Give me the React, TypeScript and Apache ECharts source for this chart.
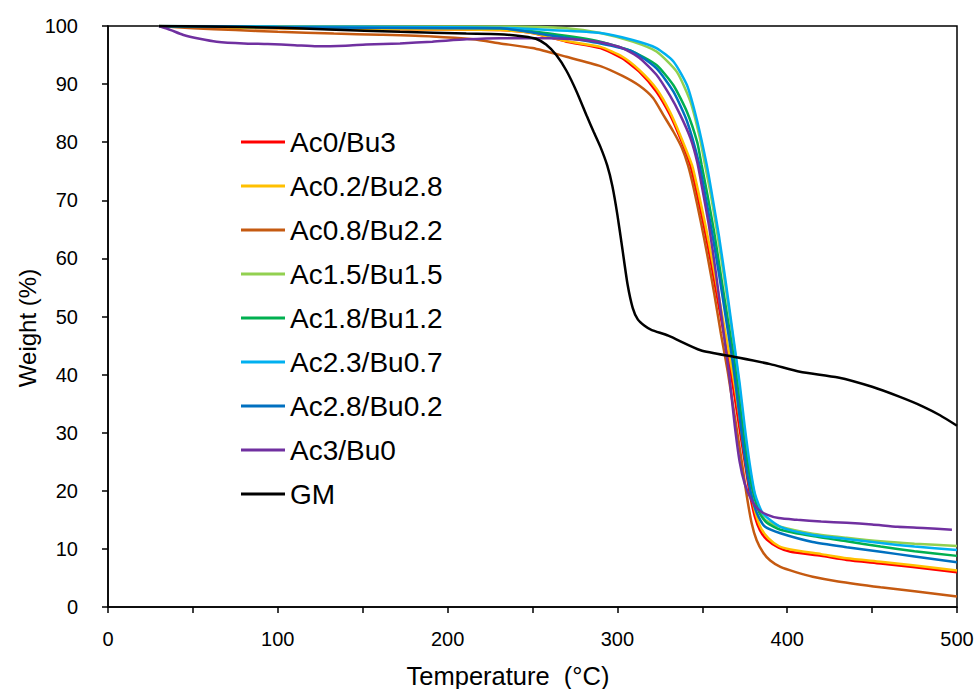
import React, { useEffect, useRef } from "react";
import * as echarts from "echarts";

// ---------- data (temperature °C, weight %) ----------
const names = [
  "Ac0/Bu3",
  "Ac0.2/Bu2.8",
  "Ac0.8/Bu2.2",
  "Ac1.5/Bu1.5",
  "Ac1.8/Bu1.2",
  "Ac2.3/Bu0.7",
  "Ac2.8/Bu0.2",
  "Ac3/Bu0",
  "GM",
];
const colors = ["#FF0000", "#FFC000", "#C55A11", "#92D050", "#00B050", "#00B0F0", "#0070C0", "#7030A0", "#000000"];

const tAc0 = [30, 60, 100, 150, 200, 231, 250, 270, 290, 303, 313, 323, 331, 337, 343, 347, 351, 355, 359, 363, 367, 371, 375, 378, 381, 384, 388, 395, 402, 420, 435, 455, 474, 500];
const wAc0 = [100, 99.8, 99.6, 99.5, 99.4, 99.3, 98.8, 97.3, 96.2, 94.4, 92.1, 88.7, 84.7, 80.7, 76, 71, 65.5, 59.5, 53, 46.5, 40, 32.5, 25, 19.5, 15.5, 13.2, 11.6, 10.2, 9.5, 8.8, 8.1, 7.5, 6.9, 6.0];

const tAc02 = [30, 60, 100, 150, 200, 231, 250, 270, 290, 303, 313, 323, 331, 337, 344, 348, 352, 356, 360, 364, 368, 372, 375.5, 378.5, 381.5, 384.5, 389, 395, 402, 420, 435, 455, 474, 500];
const wAc02 = [100, 99.8, 99.6, 99.5, 99.4, 99.3, 98.8, 97.4, 96.4, 94.7, 92.4, 89.2, 85.2, 81.2, 76, 71, 65.5, 59.5, 53, 46.5, 40, 32.5, 25.5, 20, 16, 13.6, 11.8, 10.5, 9.9, 9.1, 8.4, 7.8, 7.2, 6.3];

const tAc08 = [30, 50, 75, 100, 133, 160, 191, 215, 231, 250, 270, 290, 303, 313, 321, 327, 333, 338, 341.6, 345, 349, 353, 357, 361, 365, 369, 373, 376, 379, 382, 386, 390, 396, 405, 415, 430, 455, 475, 500];
const wAc08 = [100, 99.6, 99.3, 99.0, 98.7, 98.5, 98.2, 97.7, 97.0, 96.2, 94.7, 93.1, 91.4, 89.7, 87.6, 84.7, 81.8, 79, 76, 72, 66.5, 60.5, 54, 47, 40.5, 33, 25.5, 19.5, 14.5, 11.5, 9.3, 8.0, 6.9, 6.0, 5.2, 4.4, 3.4, 2.7, 1.8];

const tAc15 = [30, 100, 200, 231, 270, 290, 309, 323, 335, 343, 348.6, 351.6, 355, 359, 363, 367, 371, 374, 377, 380, 383, 387, 396, 415, 435, 455, 475, 500];
const wAc15 = [100, 99.9, 99.9, 99.9, 99.6, 98.8, 97.3, 95.6, 92.1, 87, 80.7, 76.1, 71, 64, 56.5, 48.5, 40, 32.5, 25.5, 20.5, 17, 15, 13.8, 12.6, 11.9, 11.3, 10.9, 10.5];

const tAc18 = [30, 100, 200, 231, 260, 290, 309, 323, 333, 341, 347, 349.6, 353, 357, 361, 365, 369, 372, 375, 378, 381, 384, 388, 396, 415, 435, 455, 475, 500];
const wAc18 = [100, 99.8, 99.7, 99.6, 98.7, 97.3, 95.6, 93.3, 89.8, 85.2, 80, 76.1, 71, 64.5, 57, 49.5, 42, 35, 28, 22.5, 18.5, 16, 14.5, 13.3, 12.2, 11.3, 10.4, 9.6, 8.8];

const tAc23 = [30, 100, 200, 231, 260, 290, 309, 323, 333, 341, 347, 352.6, 356, 360, 364, 368, 372, 375, 378, 381, 385.7, 396, 415, 435, 455, 475, 500];
const wAc23 = [100, 99.9, 99.8, 99.7, 99.3, 98.8, 97.6, 96.2, 93.9, 89.8, 83.6, 76.1, 70.5, 63.5, 55.5, 47, 38.5, 31, 24.5, 19.5, 16.1, 13.8, 12.4, 11.7, 11.0, 10.4, 9.8];

const tAc28 = [30, 100, 200, 231, 260, 290, 309, 323, 333, 341, 348.3, 352, 356, 360, 364, 368, 371, 374, 377, 380, 383, 387, 396, 415, 435, 455, 475, 500];
const wAc28 = [100, 99.8, 99.6, 99.6, 98.4, 97.0, 95.6, 92.7, 88.7, 83.6, 76.1, 70.5, 64, 57, 49.5, 42, 35, 28, 22, 18, 15.6, 13.8, 12.7, 11.2, 10.3, 9.5, 8.7, 7.7];

const tAc3 = [30, 37, 44, 54, 64, 80, 94, 110, 123, 140, 152, 172, 191, 211, 231, 260, 280, 290, 303, 313, 323, 331, 337, 343, 347, 350, 354, 358, 362, 366, 369, 372, 375, 379, 383, 388, 395, 406, 420, 435, 450, 465, 480, 497];
const wAc3 = [100, 99.3, 98.5, 97.8, 97.3, 97.0, 96.9, 96.7, 96.5, 96.6, 96.8, 97.0, 97.3, 97.7, 97.9, 97.9, 97.6, 97.2, 96.2, 94.5, 91.6, 88, 84.7, 80.7, 76.6, 72, 65.5, 57.5, 48.5, 39.5, 31.5, 25, 21.2, 18.4, 16.8, 15.9, 15.3, 15.0, 14.7, 14.5, 14.2, 13.8, 13.6, 13.3];

const tGM = [30, 60, 100, 130, 172, 211, 230, 245, 252, 258, 264, 270, 276, 282, 286, 290, 294, 297, 300, 303, 306, 309, 312, 316, 320, 330, 349, 370, 390, 407.5, 430, 450, 466, 480, 490, 500];
const wGM = [100, 99.9, 99.7, 99.4, 99.0, 98.7, 98.6, 98.2, 97.8, 96.8, 95, 92.3, 88.7, 84.5, 81.8, 79.2, 76, 72.5, 67.5, 61.5, 55.5, 51.5, 49.5, 48.4, 47.7, 46.7, 44.2, 43, 41.8, 40.5, 39.5, 37.9, 36.2, 34.5, 33, 31.2];

const temps = [tAc0, tAc02, tAc08, tAc15, tAc18, tAc23, tAc28, tAc3, tGM];
const weights = [wAc0, wAc02, wAc08, wAc15, wAc18, wAc23, wAc28, wAc3, wGM];

const xTicks = [0, 100, 200, 300, 400, 500];
const xTitle = "Temperature  (°C)";
const yTitle = "Weight (%)";

const FONT = "'Liberation Sans', Arial, sans-serif";

export default function App() {
  const ref = useRef<HTMLDivElement>(null);
  useEffect(() => {
    document.body.style.margin = "0";
    if (!ref.current) return;
    const chart = echarts.init(ref.current, null, { renderer: "svg" });
    const series = names.map((n, i) => ({
      name: n,
      type: "line",
      data: temps[i].map((t, j) => [t, weights[i][j]]),
      showSymbol: false,
      symbol: "none",
      smooth: 0.2,
      color: colors[i],
      lineStyle: { width: 2.5, color: colors[i] },
      z: 2 + i,
    }));
    chart.setOption({
      animation: false,
      backgroundColor: "#fff",
      textStyle: { fontFamily: FONT },
      grid: { left: 108, top: 26, width: 849, height: 581, show: true, borderColor: "#000", borderWidth: 1.5, backgroundColor: "transparent" },
      legend: {
        orient: "vertical",
        left: 241,
        top: 128,
        padding: 0,
        icon: "rect",
        itemWidth: 44,
        itemHeight: 3,
        itemGap: 16,
        data: names,
        textStyle: { fontSize: 28, lineHeight: 28, color: "#000", fontFamily: FONT },
      },
      xAxis: {
        type: "value",
        min: 0,
        max: 500,
        interval: 50,
        axisLine: { show: true, lineStyle: { color: "#000", width: 1.5 } },
        axisTick: { show: true, inside: false, length: 6, lineStyle: { color: "#000", width: 1.5 } },
        axisLabel: {
          margin: 22,
          fontSize: 20,
          color: "#000",
          fontFamily: FONT,
          formatter: (v: number) => (xTicks.indexOf(v) >= 0 ? String(v) : ""),
        },
        splitLine: { show: false },
      },
      yAxis: {
        type: "value",
        min: 0,
        max: 100,
        interval: 10,
        axisLine: { show: true, lineStyle: { color: "#000", width: 1.5 } },
        axisTick: { show: true, inside: false, length: 6, lineStyle: { color: "#000", width: 1.5 } },
        axisLabel: { margin: 30, fontSize: 20, color: "#000", fontFamily: FONT },
        splitLine: { show: false },
      },
      graphic: [
        {
          type: "text",
          x: 508,
          y: 676,
          style: { text: xTitle, fontSize: 25.5, fill: "#000", fontFamily: FONT, align: "center", verticalAlign: "middle" },
        },
        {
          type: "text",
          x: 27,
          y: 328,
          rotation: Math.PI / 2,
          style: { text: yTitle, fontSize: 24, fill: "#000", fontFamily: FONT, align: "center", verticalAlign: "middle" },
        },
      ],
      series,
    });
    return () => chart.dispose();
  }, []);
  return <div ref={ref} style={{ width: 978, height: 689 }} />;
}
